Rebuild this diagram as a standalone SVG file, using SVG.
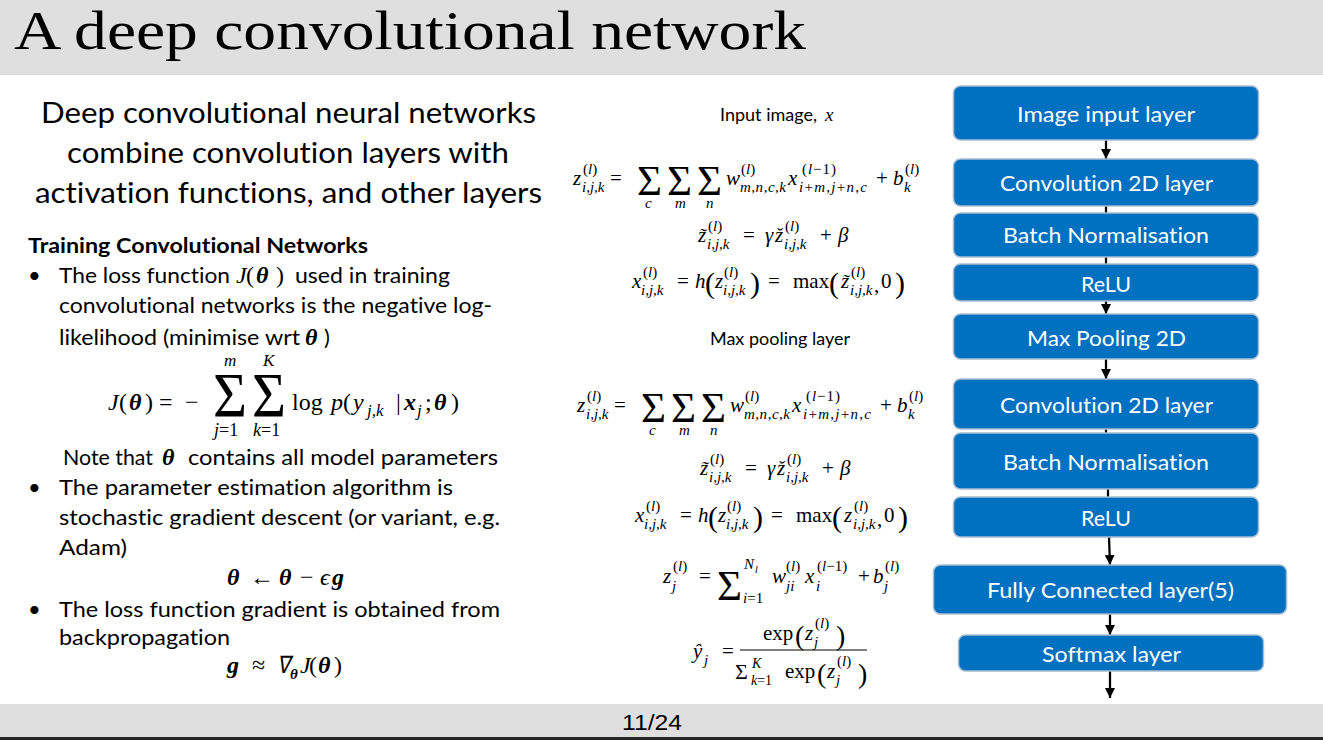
<svg xmlns="http://www.w3.org/2000/svg" width="1323" height="740" viewBox="0 0 1323 740">
<defs>
<marker id="ah" markerUnits="userSpaceOnUse" markerWidth="11" markerHeight="10" refX="10" refY="5" orient="auto">
<path d="M0,0 L10,5 L0,10 z" fill="#000"/>
</marker>
<style>
.hdr{fill:#dfdfdf}
.title{font-family:"Liberation Serif",serif;font-size:55px;fill:#000}
.body{font-family:Lato,"Liberation Sans",sans-serif;font-size:22px;fill:#000;font-variant-ligatures:none}
.lead{font-family:Lato,"Liberation Sans",sans-serif;font-size:29px;fill:#000;font-variant-ligatures:none}
.cap{font-family:Lato,"Liberation Sans",sans-serif;font-size:17px;fill:#000}
.mt{font-family:"Liberation Serif",serif;font-size:21px;fill:#000}
.ml{font-family:"Liberation Serif",serif;font-size:24px;fill:#000}
.it{font-style:italic}
.bi{font-style:italic;font-weight:bold}
.sc{font-size:15px}
.node rect{fill:#0070C0;stroke:#a9bdd2;stroke-width:1.5}
.node text{font-family:Lato,"Liberation Sans",sans-serif;font-size:22px;fill:#fff;font-variant-ligatures:none}
.conn line{stroke:#000;stroke-width:2.25}
</style>
</defs>
<rect width="1323" height="740" fill="#fff"/>
<rect class="hdr" x="0" y="0" width="1323" height="75"/>
<text class="title" x="14" y="49" textLength="792" lengthAdjust="spacingAndGlyphs">A deep convolutional network</text>
<rect class="hdr" x="0" y="704" width="1323" height="33"/>
<rect x="0" y="737" width="1323" height="3" fill="#262626"/>
<text x="622" y="730" style="font-family:'Liberation Sans',sans-serif;font-size:22px" textLength="60" lengthAdjust="spacingAndGlyphs">11/24</text>

<!-- left text -->
<text class="lead" x="41" y="123" textLength="495" lengthAdjust="spacingAndGlyphs">Deep convolutional neural networks</text>
<text class="lead" x="67" y="163" textLength="442" lengthAdjust="spacingAndGlyphs">combine convolution layers with</text>
<text class="lead" x="35" y="203" textLength="507" lengthAdjust="spacingAndGlyphs">activation functions, and other layers</text>
<text class="body" x="28" y="253" style="font-weight:bold;font-size:21px" textLength="340" lengthAdjust="spacingAndGlyphs">Training Convolutional Networks</text>
<text class="body" x="28" y="283">•</text>
<text class="body" x="59" y="283" textLength="171" lengthAdjust="spacingAndGlyphs">The loss function</text>
<text class="ml it" x="236" y="283">J</text>
<text class="ml" x="246" y="283">(</text>
<text class="ml bi" x="256" y="283">θ</text>
<text class="ml" x="276" y="283">)</text>
<text class="body" x="295" y="283" textLength="155" lengthAdjust="spacingAndGlyphs">used in training</text>
<text class="body" x="59" y="313" textLength="433" lengthAdjust="spacingAndGlyphs">convolutional networks is the negative log-</text>
<text class="body" x="59" y="345" textLength="241" lengthAdjust="spacingAndGlyphs">likelihood (minimise wrt</text>
<text class="ml bi" x="305" y="345">θ</text>
<text class="body" x="324" y="345">)</text>

<g id="eq-loss">
<text class="ml it" x="108" y="410">J</text>
<text class="ml" x="119" y="410">(</text>
<text class="ml bi" x="129" y="410">θ</text>
<text class="ml" x="145" y="410">)</text>
<text class="ml" x="159" y="410">=</text>
<text class="ml" x="185" y="410">−</text>
<text class="ml" x="213" y="417" style="font-size:64px" textLength="34" lengthAdjust="spacingAndGlyphs">Σ</text>
<text class="ml" x="252" y="417" style="font-size:64px" textLength="34" lengthAdjust="spacingAndGlyphs">Σ</text>
<text class="ml it" x="224" y="366" style="font-size:17px">m</text>
<text class="ml it" x="263" y="366" style="font-size:17px">K</text>
<text class="ml" x="214" y="436" style="font-size:18px"><tspan class="it">j</tspan>=1</text>
<text class="ml" x="253" y="436" style="font-size:18px"><tspan class="it">k</tspan>=1</text>
<text class="ml" x="292" y="410">log</text>
<text class="ml it" x="331" y="410">p</text>
<text class="ml" x="343" y="410">(</text>
<text class="ml it" x="353" y="410">y</text>
<text class="ml it" x="367" y="416" style="font-size:17px">j,k</text>
<text class="ml" x="396" y="410">|</text>
<text class="ml bi" x="404" y="410">x</text>
<text class="ml it" x="417" y="416" style="font-size:17px">j</text>
<text class="ml" x="425" y="410">;</text>
<text class="ml bi" x="434" y="410">θ</text>
<text class="ml" x="451" y="410">)</text>
</g>

<text class="body" x="63" y="465" textLength="90" lengthAdjust="spacingAndGlyphs">Note that</text>
<text class="ml bi" x="162" y="465">θ</text>
<text class="body" x="188" y="465" textLength="310" lengthAdjust="spacingAndGlyphs">contains all model parameters</text>
<text class="body" x="28" y="495">•</text>
<text class="body" x="59" y="495" textLength="394" lengthAdjust="spacingAndGlyphs">The parameter estimation algorithm is</text>
<text class="body" x="59" y="525" textLength="441" lengthAdjust="spacingAndGlyphs">stochastic gradient descent (or variant, e.g.</text>
<text class="body" x="59" y="555" textLength="68" lengthAdjust="spacingAndGlyphs">Adam)</text>
<g id="eq-sgd">
<text class="ml bi" x="227" y="585">θ</text>
<text class="ml" x="250" y="585">←</text>
<text class="ml bi" x="279" y="585">θ</text>
<text class="ml" x="300" y="585">−</text>
<text class="ml it" x="320" y="585">ϵ</text>
<text class="ml bi" x="332" y="585">g</text>
</g>
<text class="body" x="28" y="617">•</text>
<text class="body" x="59" y="617" textLength="441" lengthAdjust="spacingAndGlyphs">The loss function gradient is obtained from</text>
<text class="body" x="59" y="645" textLength="171" lengthAdjust="spacingAndGlyphs">backpropagation</text>
<g id="eq-grad">
<text class="ml bi" x="227" y="673">g</text>
<text class="ml" x="252" y="673">≈</text>
<text class="ml it" x="277" y="673" textLength="13" lengthAdjust="spacingAndGlyphs">∇</text>
<text class="ml bi" x="290" y="679" style="font-size:15px">θ</text>
<text class="ml it" x="300" y="673">J</text>
<text class="ml" x="309" y="673">(</text>
<text class="ml bi" x="318" y="673">θ</text>
<text class="ml" x="334" y="673">)</text>
</g>

<!-- middle equations -->
<text class="cap" x="720" y="121" textLength="97" lengthAdjust="spacingAndGlyphs">Input image,</text>
<text class="mt it" x="825" y="121" style="font-size:19px">x</text>

<g id="eq-conv1">
<text class="mt it" x="573" y="185">z</text>
<text class="mt sc" x="583" y="174">(<tspan class="it">l</tspan>)</text>
<text class="mt sc it" x="582" y="192">i,j,k</text>
<text class="mt" x="610" y="185">=</text>
<text class="mt" x="637" y="195" style="font-size:42px" textLength="25" lengthAdjust="spacingAndGlyphs">Σ</text>
<text class="mt" x="667" y="195" style="font-size:42px" textLength="25" lengthAdjust="spacingAndGlyphs">Σ</text>
<text class="mt" x="697" y="195" style="font-size:42px" textLength="25" lengthAdjust="spacingAndGlyphs">Σ</text>
<text class="mt sc it" x="645" y="208">c</text>
<text class="mt sc it" x="675" y="208">m</text>
<text class="mt sc it" x="706" y="208">n</text>
<text class="mt it" x="726" y="185">w</text>
<text class="mt sc" x="741" y="174">(<tspan class="it">l</tspan>)</text>
<text class="mt sc it" x="740" y="192" textLength="46" lengthAdjust="spacing">m,n,c,k</text>
<text class="mt it" x="788" y="185">x</text>
<text class="mt sc" x="802" y="174" textLength="34" lengthAdjust="spacing">(<tspan class="it">l</tspan>−1)</text>
<text class="mt sc" x="799" y="192" textLength="68" lengthAdjust="spacing"><tspan class="it">i</tspan>+<tspan class="it">m</tspan>,<tspan class="it">j</tspan>+<tspan class="it">n</tspan>,<tspan class="it">c</tspan></text>
<text class="mt" x="876" y="185">+</text>
<text class="mt it" x="893" y="185">b</text>
<text class="mt sc" x="905" y="174">(<tspan class="it">l</tspan>)</text>
<text class="mt sc it" x="904" y="192">k</text>
</g>
<g id="eq-bn1">
<text class="mt it" x="698" y="242">z̃</text>
<text class="mt sc" x="708" y="231">(<tspan class="it">l</tspan>)</text>
<text class="mt sc it" x="707" y="249">i,j,k</text>
<text class="mt" x="743" y="242">=</text>
<text class="mt it" x="765" y="242">γ</text>
<text class="mt it" x="775" y="242">ž</text>
<text class="mt sc" x="785" y="231">(<tspan class="it">l</tspan>)</text>
<text class="mt sc it" x="784" y="249">i,j,k</text>
<text class="mt" x="820" y="242">+</text>
<text class="mt it" x="838" y="242">β</text>
</g>
<g id="eq-relu1">
<text class="mt it" x="632" y="288">x</text>
<text class="mt sc" x="643" y="277">(<tspan class="it">l</tspan>)</text>
<text class="mt sc it" x="641" y="295">i,j,k</text>
<text class="mt" x="677" y="288">=</text>
<text class="mt it" x="695" y="288">h</text>
<text class="mt" x="705" y="293" style="font-size:30px">(</text>
<text class="mt it" x="715" y="288">z</text>
<text class="mt sc" x="724" y="277">(<tspan class="it">l</tspan>)</text>
<text class="mt sc it" x="723" y="295">i,j,k</text>
<text class="mt" x="750" y="293" style="font-size:30px">)</text>
<text class="mt" x="768" y="288">=</text>
<text class="mt" x="793" y="288">max</text>
<text class="mt" x="829" y="293" style="font-size:30px">(</text>
<text class="mt it" x="841" y="288">z̃</text>
<text class="mt sc" x="851" y="277">(<tspan class="it">l</tspan>)</text>
<text class="mt sc it" x="850" y="295">i,j,k</text>
<text class="mt" x="874" y="292">,</text>
<text class="mt" x="881" y="288">0</text>
<text class="mt" x="895" y="293" style="font-size:30px">)</text>
</g>

<text class="cap" x="710" y="345" textLength="140" lengthAdjust="spacingAndGlyphs">Max pooling layer</text>

<g id="eq-conv2" transform="translate(4,227)">
<text class="mt it" x="573" y="185">z</text>
<text class="mt sc" x="583" y="174">(<tspan class="it">l</tspan>)</text>
<text class="mt sc it" x="582" y="192">i,j,k</text>
<text class="mt" x="610" y="185">=</text>
<text class="mt" x="637" y="195" style="font-size:42px" textLength="25" lengthAdjust="spacingAndGlyphs">Σ</text>
<text class="mt" x="667" y="195" style="font-size:42px" textLength="25" lengthAdjust="spacingAndGlyphs">Σ</text>
<text class="mt" x="697" y="195" style="font-size:42px" textLength="25" lengthAdjust="spacingAndGlyphs">Σ</text>
<text class="mt sc it" x="645" y="208">c</text>
<text class="mt sc it" x="675" y="208">m</text>
<text class="mt sc it" x="706" y="208">n</text>
<text class="mt it" x="726" y="185">w</text>
<text class="mt sc" x="741" y="174">(<tspan class="it">l</tspan>)</text>
<text class="mt sc it" x="740" y="192" textLength="46" lengthAdjust="spacing">m,n,c,k</text>
<text class="mt it" x="788" y="185">x</text>
<text class="mt sc" x="802" y="174" textLength="34" lengthAdjust="spacing">(<tspan class="it">l</tspan>−1)</text>
<text class="mt sc" x="799" y="192" textLength="68" lengthAdjust="spacing"><tspan class="it">i</tspan>+<tspan class="it">m</tspan>,<tspan class="it">j</tspan>+<tspan class="it">n</tspan>,<tspan class="it">c</tspan></text>
<text class="mt" x="876" y="185">+</text>
<text class="mt it" x="893" y="185">b</text>
<text class="mt sc" x="905" y="174">(<tspan class="it">l</tspan>)</text>
<text class="mt sc it" x="904" y="192">k</text>
</g>
<g id="eq-bn2" transform="translate(2,233)">
<text class="mt it" x="698" y="242">z̃</text>
<text class="mt sc" x="708" y="231">(<tspan class="it">l</tspan>)</text>
<text class="mt sc it" x="707" y="249">i,j,k</text>
<text class="mt" x="743" y="242">=</text>
<text class="mt it" x="765" y="242">γ</text>
<text class="mt it" x="775" y="242">ž</text>
<text class="mt sc" x="785" y="231">(<tspan class="it">l</tspan>)</text>
<text class="mt sc it" x="784" y="249">i,j,k</text>
<text class="mt" x="820" y="242">+</text>
<text class="mt it" x="838" y="242">β</text>
</g>
<g id="eq-relu2" transform="translate(3,234)">
<text class="mt it" x="632" y="288">x</text>
<text class="mt sc" x="643" y="277">(<tspan class="it">l</tspan>)</text>
<text class="mt sc it" x="641" y="295">i,j,k</text>
<text class="mt" x="677" y="288">=</text>
<text class="mt it" x="695" y="288">h</text>
<text class="mt" x="705" y="293" style="font-size:30px">(</text>
<text class="mt it" x="715" y="288">z</text>
<text class="mt sc" x="724" y="277">(<tspan class="it">l</tspan>)</text>
<text class="mt sc it" x="723" y="295">i,j,k</text>
<text class="mt" x="750" y="293" style="font-size:30px">)</text>
<text class="mt" x="768" y="288">=</text>
<text class="mt" x="793" y="288">max</text>
<text class="mt" x="829" y="293" style="font-size:30px">(</text>
<text class="mt it" x="841" y="288">z</text>
<text class="mt sc" x="851" y="277">(<tspan class="it">l</tspan>)</text>
<text class="mt sc it" x="850" y="295">i,j,k</text>
<text class="mt" x="874" y="292">,</text>
<text class="mt" x="881" y="288">0</text>
<text class="mt" x="895" y="293" style="font-size:30px">)</text>
</g>

<g id="eq-fc">
<text class="mt it" x="663" y="583">z</text>
<text class="mt sc" x="673" y="571">(<tspan class="it">l</tspan>)</text>
<text class="mt sc it" x="672" y="591">j</text>
<text class="mt" x="699" y="583">=</text>
<text class="mt" x="717" y="600" style="font-size:42px" textLength="25" lengthAdjust="spacingAndGlyphs">Σ</text>
<text class="mt sc it" x="744" y="569">N</text>
<text class="mt it" x="755" y="573" style="font-size:10px">l</text>
<text class="mt sc" x="743" y="603"><tspan class="it">i</tspan>=1</text>
<text class="mt it" x="772" y="583">w</text>
<text class="mt sc" x="786" y="571">(<tspan class="it">l</tspan>)</text>
<text class="mt sc it" x="786" y="591">ji</text>
<text class="mt it" x="805" y="583">x</text>
<text class="mt sc" x="817" y="571">(<tspan class="it">l</tspan>−1)</text>
<text class="mt sc it" x="816" y="591">i</text>
<text class="mt" x="858" y="583">+</text>
<text class="mt it" x="873" y="583">b</text>
<text class="mt sc" x="885" y="571">(<tspan class="it">l</tspan>)</text>
<text class="mt sc it" x="884" y="591">j</text>
</g>
<g id="eq-softmax">
<text class="mt it" x="693" y="658">ŷ</text>
<text class="mt sc it" x="704" y="665">j</text>
<text class="mt" x="722" y="658">=</text>
<line x1="740" y1="650" x2="867" y2="650" stroke="#000" stroke-width="1.2"/>
<text class="mt" x="763" y="640">exp</text>
<text class="mt" x="795" y="645" style="font-size:28px">(</text>
<text class="mt it" x="805" y="640">z</text>
<text class="mt sc" x="815" y="628">(<tspan class="it">l</tspan>)</text>
<text class="mt sc it" x="814" y="647">j</text>
<text class="mt" x="836" y="645" style="font-size:28px">)</text>
<text class="mt" x="735" y="679" style="font-size:22px">Σ</text>
<text class="mt it" x="752" y="668" style="font-size:14px">K</text>
<text class="mt" x="751" y="685" style="font-size:14px"><tspan class="it">k</tspan>=1</text>
<text class="mt" x="785" y="678">exp</text>
<text class="mt" x="817" y="683" style="font-size:28px">(</text>
<text class="mt it" x="827" y="678">z</text>
<text class="mt sc" x="837" y="666">(<tspan class="it">l</tspan>)</text>
<text class="mt sc it" x="836" y="685">j</text>
<text class="mt" x="858" y="683" style="font-size:28px">)</text>
</g>

<!-- connectors -->
<g id="connectors" class="conn">
<line x1="1106" y1="140" x2="1106" y2="159" marker-end="url(#ah)"/>
<line x1="1106" y1="206" x2="1106" y2="213"/>
<line x1="1106" y1="257" x2="1106" y2="264"/>
<line x1="1106" y1="301" x2="1106" y2="314" marker-end="url(#ah)"/>
<line x1="1106" y1="359" x2="1106" y2="379" marker-end="url(#ah)"/>
<line x1="1106" y1="429" x2="1106" y2="433"/>
<line x1="1108" y1="489" x2="1108" y2="497"/>
<line x1="1109" y1="537" x2="1110" y2="565" marker-end="url(#ah)"/>
<line x1="1110" y1="614" x2="1110" y2="635" marker-end="url(#ah)"/>
<line x1="1110" y1="671" x2="1110" y2="698" marker-end="url(#ah)"/>
</g>

<!-- nodes -->
<g id="n-input" class="node"><rect x="953.5" y="86" width="305" height="54" rx="7"/><text x="1017" y="122" textLength="178" lengthAdjust="spacingAndGlyphs">Image input layer</text></g>
<g id="n-conv1" class="node"><rect x="953.5" y="159" width="305" height="47" rx="7"/><text x="1000" y="191" textLength="213" lengthAdjust="spacingAndGlyphs">Convolution 2D layer</text></g>
<g id="n-bn1" class="node"><rect x="953.5" y="213" width="305" height="44" rx="7"/><text x="1003" y="243" textLength="206" lengthAdjust="spacingAndGlyphs">Batch Normalisation</text></g>
<g id="n-relu1" class="node"><rect x="953.5" y="264" width="305" height="37" rx="7"/><text x="1081" y="292" textLength="50" lengthAdjust="spacingAndGlyphs">ReLU</text></g>
<g id="n-pool" class="node"><rect x="953.5" y="314" width="305" height="45" rx="7"/><text x="1027" y="346" textLength="159" lengthAdjust="spacingAndGlyphs">Max Pooling 2D</text></g>
<g id="n-conv2" class="node"><rect x="953.5" y="379" width="305" height="50" rx="7"/><text x="1000" y="413" textLength="213" lengthAdjust="spacingAndGlyphs">Convolution 2D layer</text></g>
<g id="n-bn2" class="node"><rect x="953.5" y="433" width="305" height="56" rx="7"/><text x="1003" y="470" textLength="206" lengthAdjust="spacingAndGlyphs">Batch Normalisation</text></g>
<g id="n-relu2" class="node"><rect x="953.5" y="497" width="305" height="40" rx="7"/><text x="1081" y="526" textLength="50" lengthAdjust="spacingAndGlyphs">ReLU</text></g>
<g id="n-fc" class="node"><rect x="933.5" y="565" width="353" height="49" rx="7"/><text x="987" y="598" textLength="247" lengthAdjust="spacingAndGlyphs">Fully Connected layer(5)</text></g>
<g id="n-softmax" class="node"><rect x="958.5" y="635" width="305" height="36" rx="7"/><text x="1042" y="662" textLength="139" lengthAdjust="spacingAndGlyphs">Softmax layer</text></g>
</svg>
